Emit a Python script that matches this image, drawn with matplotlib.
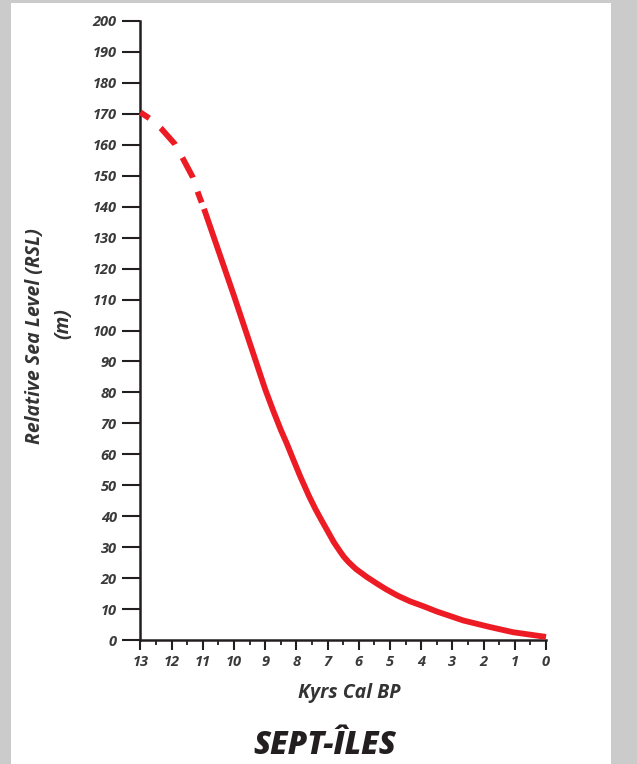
import matplotlib
matplotlib.use("Agg")
import matplotlib.pyplot as plt
from matplotlib.patches import Rectangle

# Sept-Iles relative sea level curve
age_kyr = [13.0, 12.69, 12.32, 11.89, 11.63, 11.32, 11.14, 10.96,
           10.0, 9.0, 8.74, 8.5, 8.3, 8.1, 7.87, 7.6, 7.39, 7.19, 7.0,
           6.8, 6.6, 6.48, 6.34, 6.1, 5.75, 5.4, 5.11, 4.75, 4.36, 3.9,
           3.5, 3.0, 2.65, 1.8, 1.05, 0.0]
rsl_m = [170.5, 168.4, 165.1, 160.2, 155.4, 149.5, 144.1, 139.3,
         111.2, 81.0, 74.0, 67.9, 63.3, 58.3, 52.7, 46.6, 42.3, 38.6, 35.2,
         31.6, 28.6, 26.9, 25.3, 23.0, 20.4, 18.1, 16.3, 14.3, 12.5, 10.8,
         9.2, 7.5, 6.3, 4.2, 2.5, 1.0]
dashed_until = 10.96  # older part of the curve is uncertain (dashed)

x_ticks = list(range(13, -1, -1))
y_ticks = list(range(0, 201, 10))

red = "#ed1c24"
ink = "#231f20"
font = "Open Sans"

plt.rcParams["lines.scale_dashes"] = False

fig = plt.figure(figsize=(6.37, 7.64), dpi=100, facecolor="#cbcbcb")
fig.patches.append(Rectangle((11 / 637, 0), 600 / 637, 761 / 764,
                             transform=fig.transFigure, facecolor="white",
                             edgecolor="none", zorder=-10))

ax = fig.add_axes([140.4 / 637, 124 / 764, 405.6 / 637, 619 / 764])
ax.set_facecolor("none")

i_cut = age_kyr.index(dashed_until)
ax.plot(age_kyr[:i_cut + 1], rsl_m[:i_cut + 1], color=red, lw=4.2,
        linestyle=(0, (7.7, 10.8, 15.8, 10.8, 16.3, 10.6, 8.4, 40)),
        dash_capstyle="butt", solid_joinstyle="round", clip_on=False, zorder=3)
ax.plot(age_kyr[i_cut:], rsl_m[i_cut:], color=red, lw=4.2,
        solid_capstyle="butt", solid_joinstyle="round", clip_on=False, zorder=3)

ax.set_xlim(13, 0)
ax.set_ylim(0, 200)
for s in ["top", "right"]:
    ax.spines[s].set_visible(False)
for s in ["left", "bottom"]:
    ax.spines[s].set_linewidth(1.8)
    ax.spines[s].set_color(ink)

ax.set_xticks(x_ticks)
ax.set_xticks([t + 0.5 for t in x_ticks[1:]], minor=True)
ax.set_yticks(y_ticks)
ax.tick_params(axis="x", which="major", length=7, width=1.5, color=ink, pad=4)
ax.tick_params(axis="x", which="minor", length=3.5, width=1.3, color=ink)
ax.tick_params(axis="y", which="major", length=13, width=1.5, color=ink, pad=4)
for lab in ax.get_xticklabels() + ax.get_yticklabels():
    lab.set_fontfamily(font)
    lab.set_fontstyle("italic")
    lab.set_fontweight("bold")
    lab.set_fontsize(10.5)
    lab.set_color("#3a3a3a")

fig.text(35 / 637, 1 - 336 / 764, "Relative Sea Level (RSL)", rotation=90,
         ha="center", va="center", fontsize=14, family=font, style="italic",
         weight="bold", color="#333333")
fig.text(63 / 637, 1 - 324 / 764, "(m)", rotation=90,
         ha="center", va="center", fontsize=14, family=font, style="italic",
         weight="bold", color="#333333")
fig.text(349 / 637, 1 - 693 / 764, "Kyrs Cal BP", ha="center", va="center",
         fontsize=14, family=font, style="italic", weight="bold", color="#333333")
fig.text(325 / 637, 1 - 746 / 764, "SEPT-ÎLES", ha="center", va="center",
         fontsize=22.5, family=font, style="italic", weight="heavy", color=ink)

fig.savefig("out.png", dpi=100, facecolor=fig.get_facecolor())
